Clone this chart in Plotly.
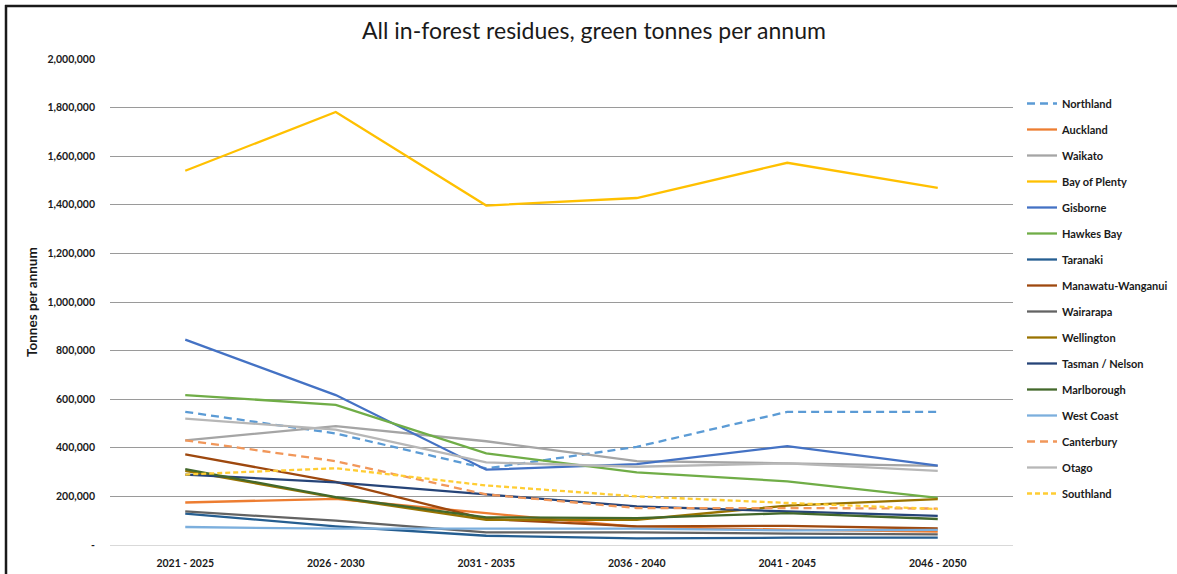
import plotly.graph_objects as go

periods = ["2021 - 2025", "2026 - 2030", "2031 - 2035", "2036 - 2040", "2041 - 2045", "2046 - 2050"]

northland = [548000, 459000, 315000, 404000, 548000, 548000]
auckland = [175000, 190000, 131000, 74000, 63000, 55000]
waikato = [431000, 489000, 427000, 345000, 336000, 326000]
bay_of_plenty = [1540000, 1782000, 1397000, 1428000, 1573000, 1470000]
gisborne = [845000, 617000, 310000, 333000, 407000, 327000]
hawkes_bay = [617000, 577000, 377000, 299000, 262000, 194000]
taranaki = [129000, 77000, 38000, 27000, 30000, 30000]
manawatu = [373000, 260000, 107000, 77000, 79000, 68000]
wairarapa = [138000, 100000, 52000, 52000, 47000, 44000]
wellington = [305000, 195000, 104000, 104000, 162000, 189000]
tasman = [290000, 258000, 208000, 159000, 138000, 120000]
marlborough = [312000, 197000, 114000, 111000, 131000, 107000]
west_coast = [74000, 67000, 67000, 67000, 60000, 62000]
canterbury = [431000, 345000, 208000, 152000, 152000, 150000]
otago = [520000, 475000, 340000, 322000, 336000, 305000]
southland = [290000, 316000, 245000, 200000, 173000, 148000]

y_ticks = [0, 200000, 400000, 600000, 800000, 1000000, 1200000, 1400000, 1600000, 1800000, 2000000]
y_tick_text = ["-"] + [f"{v:,}" for v in y_ticks[1:]]

series = [
    ("Northland", northland, "#5B9BD5", "8px,5px"),
    ("Auckland", auckland, "#ED7D31", "solid"),
    ("Waikato", waikato, "#A5A5A5", "solid"),
    ("Bay of Plenty", bay_of_plenty, "#FFC000", "solid"),
    ("Gisborne", gisborne, "#4472C4", "solid"),
    ("Hawkes Bay", hawkes_bay, "#70AD47", "solid"),
    ("Taranaki", taranaki, "#255E91", "solid"),
    ("Manawatu-Wanganui", manawatu, "#9E480E", "solid"),
    ("Wairarapa", wairarapa, "#636363", "solid"),
    ("Wellington", wellington, "#997300", "solid"),
    ("Tasman / Nelson", tasman, "#264478", "solid"),
    ("Marlborough", marlborough, "#43682B", "solid"),
    ("West Coast", west_coast, "#7CAFDD", "solid"),
    ("Canterbury", canterbury, "#F1975A", "8px,5px"),
    ("Otago", otago, "#B7B7B7", "solid"),
    ("Southland", southland, "#FFCD33", "5px,3px"),
]

fig = go.Figure()
for name, vals, color, dash in series:
    fig.add_trace(go.Scatter(
        x=periods, y=vals, name=name, mode="lines",
        line=dict(color=color, width=2.3, dash=dash),
        legendgroup=name,
    ))

FONT = "Lato"
TXT = "#1a1a1a"
W, H = 1177, 574
# screen coords of the plot area
SX0, SX1, SY0, SY1 = 110, 1013, 59, 545
L, T = SX0, SY0
R, B = W - SX1, H - SY1
pw, ph = W - L - R, H - T - B


def px_x(p):
    return (p - L) / pw


def px_y(p):
    return 1 - (p - T) / ph


fig.update_layout(
    width=W, height=H,
    margin=dict(l=L, r=R, t=T, b=B, autoexpand=False),
    paper_bgcolor="white", plot_bgcolor="white",
    title=dict(text="All in-forest residues, green tonnes per annum",
               x=594 / W, xanchor="center", y=1 - 31 / H, yanchor="middle",
               font=dict(family=FONT, size=23, color=TXT)),
    xaxis=dict(type="category", range=[-0.5, 5.5], showgrid=False, automargin=False,
               showline=True, linecolor="#d9d9d9", linewidth=1,
               ticks="", ticklabelstandoff=8,
               tickfont=dict(family=FONT, size=10.5, color=TXT, weight="bold")),
    yaxis=dict(range=[0, 2000000], tickvals=y_ticks, ticktext=y_tick_text, automargin=False,
               showgrid=True, gridcolor="#9a9a9a", gridwidth=1,
               zeroline=False, showline=False, ticks="", ticklabelstandoff=14,
               tickfont=dict(family=FONT, size=10.5, color=TXT, weight="bold")),
    legend=dict(x=px_x(1022), xanchor="left", y=px_y(89), yanchor="top",
                font=dict(family=FONT, size=11, color=TXT, weight="bold"),
                tracegroupgap=7, bgcolor="rgba(0,0,0,0)"),
    annotations=[dict(text="Tonnes per annum", textangle=-90, xref="paper", yref="paper",
                      x=px_x(32), y=px_y(302), xanchor="center", yanchor="middle",
                      showarrow=False,
                      font=dict(family=FONT, size=13.5, color=TXT, weight="bold"))],
    shapes=[
        dict(type="line", xref="paper", yref="paper",
             x0=px_x(5), x1=px_x(1190), y0=px_y(6), y1=px_y(6),
             line=dict(color=TXT, width=2.5), layer="below"),
        dict(type="line", xref="paper", yref="paper",
             x0=px_x(6), x1=px_x(6), y0=px_y(5), y1=px_y(600),
             line=dict(color=TXT, width=2.5), layer="below"),
    ],
)

fig.write_html("out.html", config={"displayModeBar": False},
               post_script="document.body.style.margin='0';document.body.style.overflow='hidden';document.documentElement.style.overflow='hidden';")
